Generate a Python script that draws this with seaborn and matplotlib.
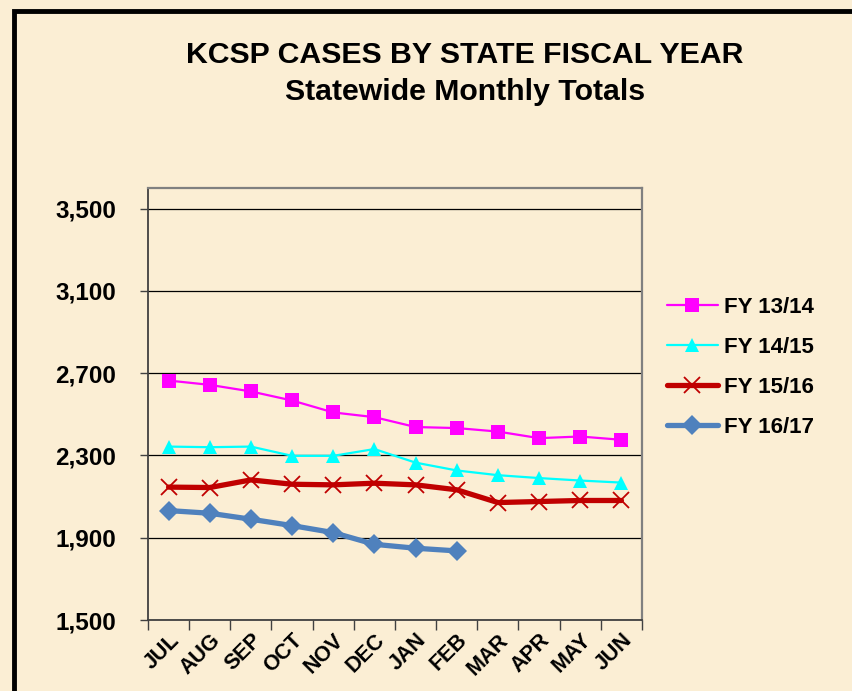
import numpy as np
import pandas as pd
import matplotlib
matplotlib.use('Agg')
import matplotlib.pyplot as plt
import seaborn as sns
from matplotlib.patches import Rectangle
from matplotlib.ticker import FixedLocator, FuncFormatter

months = ['JUL', 'AUG', 'SEP', 'OCT', 'NOV', 'DEC', 'JAN', 'FEB', 'MAR', 'APR', 'MAY', 'JUN']

fy1314 = [2664, 2643, 2611, 2567, 2509, 2486, 2438, 2433, 2416, 2384, 2392, 2376]
fy1415 = [2343, 2340, 2343, 2298, 2298, 2331, 2265, 2227, 2204, 2190, 2178, 2168]
fy1516 = [2146, 2144, 2181, 2160, 2157, 2165, 2157, 2133, 2071, 2076, 2081, 2081]
fy1617 = [2032, 2019, 1990, 1959, 1925, 1868, 1849, 1836]

series_names = ['FY 13/14', 'FY 14/15', 'FY 15/16', 'FY 16/17']
yticks = [1500, 1900, 2300, 2700, 3100, 3500]

bg = '#FBEED4'
sns.set_style('white', rc={'text.color': 'black', 'xtick.color': 'black',
                           'ytick.color': 'black', 'axes.labelcolor': 'black'})
plt.rcParams['font.family'] = ['Liberation Sans', 'DejaVu Sans']

fig = plt.figure(figsize=(8.53, 6.91), dpi=100)
fig.patch.set_facecolor(bg)
ax = fig.add_axes([0.1735, 0.1027, 0.5791, 0.6253])
ax.set_facecolor(bg)

styles = [
    dict(color='#FF00FF', marker='s', lw=1.6, ms=10, mew=0),
    dict(color='#00FFFF', marker='^', lw=1.6, ms=10, mew=0),
    dict(color='#C00000', marker='x', lw=3.8, ms=11, mew=1.3),
    dict(color='#4F81BD', marker='D', lw=3.8, ms=10, mew=0),
]

for name, vals, st in zip(series_names, [fy1314, fy1415, fy1516, fy1617], styles):
    df = pd.DataFrame({'month': np.arange(len(vals)), 'cases': vals})
    sns.lineplot(data=df, x='month', y='cases', ax=ax, label=name,
                 color=st['color'], marker=st['marker'], linewidth=st['lw'],
                 markersize=st['ms'], markeredgewidth=st['mew'],
                 markeredgecolor=st['color'], zorder=3)

ax.set_xlim(-0.5, len(months) - 0.5)
ax.set_ylim(1500, 3600)
ax.set_xlabel('')
ax.set_ylabel('')

# y axis
ax.yaxis.set_major_locator(FixedLocator(yticks))
ax.yaxis.set_major_formatter(FuncFormatter(lambda v, p: f'{int(v):,}'))
ax.grid(axis='y', color='#000000', lw=0.9, zorder=1)
ax.tick_params(axis='y', direction='out', length=6, width=1, color='#404040',
               pad=17, labelsize=17.5, left=True)

# x axis: ticks at category boundaries, labels at centres
ax.xaxis.set_major_locator(FixedLocator(np.arange(-0.5, len(months), 1.0)))
ax.xaxis.set_major_formatter(FuncFormatter(lambda v, p: ''))
ax.xaxis.set_minor_locator(FixedLocator(np.arange(len(months))))
ax.set_xticklabels(months, minor=True)
ax.tick_params(axis='x', which='major', direction='out', length=7, width=1,
               color='#404040', bottom=True)
ax.tick_params(axis='x', which='minor', length=0, labelsize=15.5, pad=7)
for lbl in ax.get_xticklabels(minor=True):
    lbl.set_rotation(45)
    lbl.set_ha('right')
    lbl.set_rotation_mode('anchor')
    lbl.set_fontweight('bold')
for lbl in ax.get_yticklabels():
    lbl.set_fontweight('bold')

for s in ['left', 'bottom']:
    ax.spines[s].set_color('#404040')
    ax.spines[s].set_linewidth(1.3)
for s in ['top', 'right']:
    ax.spines[s].set_color('#808080')
    ax.spines[s].set_linewidth(1.6)

leg = ax.legend(loc='upper left', bbox_to_anchor=(1.01, 0.795), frameon=False,
                prop={'weight': 'bold', 'size': 16}, handlelength=2.3,
                labelspacing=0.86, handletextpad=0.25)

fig.text(0.545, 0.894, 'KCSP CASES BY STATE FISCAL YEAR\nStatewide Monthly Totals',
         ha='center', va='center', fontsize=21.8, fontweight='bold',
         linespacing=1.4)

# outer frame (left and top edges visible)
fig.patches.append(Rectangle((14 / 853, -0.1), 1.2, 1 - 11 / 691 + 0.1,
                             transform=fig.transFigure, fill=False,
                             edgecolor='black', lw=3.5))

fig.savefig('out.png', dpi=100, facecolor=bg)
